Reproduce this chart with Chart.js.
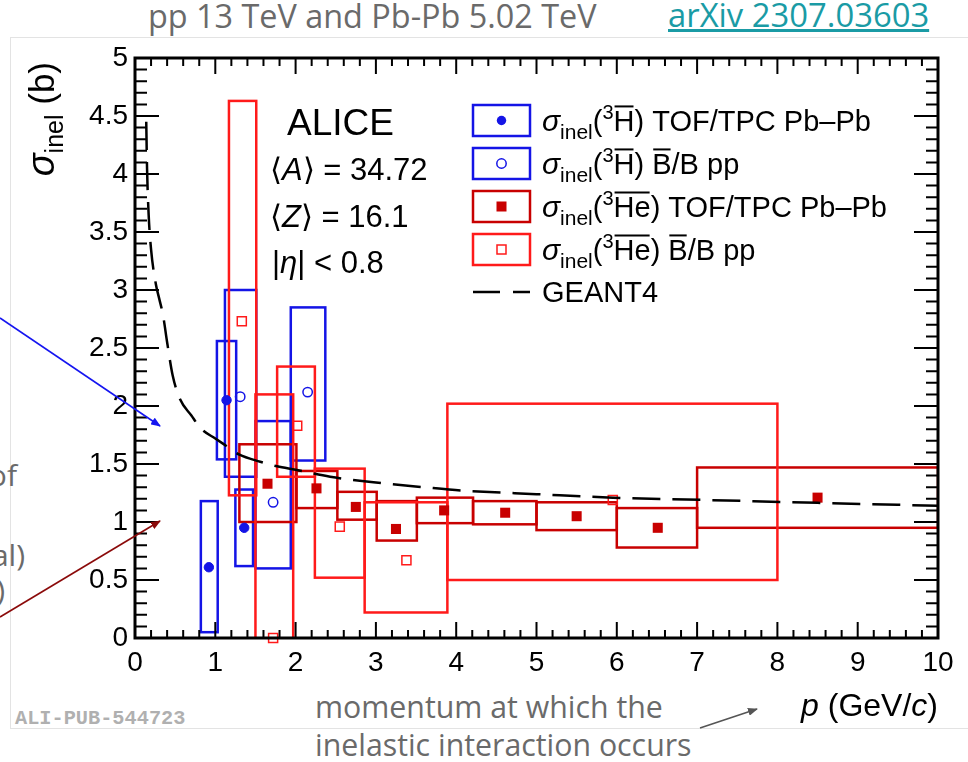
<!DOCTYPE html>
<html>
<head>
<meta charset="utf-8">
<script src="https://cdn.jsdelivr.net/npm/chart.js@4.4.0/dist/chart.umd.min.js"></script>
<style>
  body { margin: 0; width: 968px; height: 762px; overflow: hidden; background: #fff; position: relative; font-family: 'Open Sans', sans-serif; }
  .t { position: absolute; white-space: nowrap; line-height: 1; color: #6a6a6a; }
  #fig { position: absolute; left: 10px; top: 37px; width: 1000px; height: 690px; border: 1px solid #e3e3e3; }
  #c { position: absolute; left: 0; top: 0; }
  svg { position: absolute; left: 0; top: 0; }
</style>
</head>
<body>
<div id="fig"></div>
<div class="t" style="left:148px;top:-1px;font-size:32.4px;">pp 13 TeV and Pb-Pb 5.02 TeV</div>
<div class="t" style="left:668px;top:-1px;font-size:32.8px;color:#1a9ba5;text-decoration:underline;">arXiv 2307.03603</div>
<div class="t" style="right:951px;top:460px;font-size:30px;">of</div>
<div class="t" style="right:943px;top:540px;font-size:30px;">al)</div>
<div class="t" style="right:963px;top:575px;font-size:30px;">)</div>
<div class="t" style="left:315px;top:692px;font-size:30.3px;">momentum at which the</div>
<div class="t" style="left:315px;top:730px;font-size:30.3px;">inelastic interaction occurs</div>
<div class="t" style="left:15px;top:707px;font:bold 20.3px 'Liberation Mono', monospace;color:#b0b0b0;">ALI-PUB-544723</div>
<canvas id="c" width="968" height="762"></canvas>
<svg width="968" height="762">
  <defs>
    <marker id="ab" markerWidth="10" markerHeight="8" refX="9" refY="4" orient="auto" markerUnits="userSpaceOnUse"><path d="M0,0 L10,4 L0,8 z" fill="#1515f0"/></marker>
    <marker id="ar" markerWidth="10" markerHeight="8" refX="9" refY="4" orient="auto" markerUnits="userSpaceOnUse"><path d="M0,0 L10,4 L0,8 z" fill="#8b0a0a"/></marker>
    <marker id="ag" markerWidth="10" markerHeight="8" refX="9" refY="4" orient="auto" markerUnits="userSpaceOnUse"><path d="M0,0 L10,4 L0,8 z" fill="#555"/></marker>
  </defs>
  <line x1="0" y1="318" x2="160" y2="426" stroke="#1515f0" stroke-width="1.6" marker-end="url(#ab)"/>
  <line x1="0" y1="617" x2="160" y2="521" stroke="#8b0a0a" stroke-width="1.6" marker-end="url(#ar)"/>
  <line x1="700" y1="728" x2="757" y2="709" stroke="#555" stroke-width="1.6" marker-end="url(#ag)"/>
</svg>
<script>
// anti-3H, TOF/TPC Pb-Pb
const h3PbX = [0.92, 1.14, 1.36];
const h3PbY = [0.61, 2.05, 0.95];
const h3PbXlo = [0.82, 1.02, 1.25];
const h3PbXhi = [1.03, 1.26, 1.47];
const h3PbYlo = [0.05, 1.54, 0.62];
const h3PbYhi = [1.18, 2.56, 1.28];

// anti-3H, B/B pp
const h3ppX = [1.31, 1.72, 2.15];
const h3ppY = [2.08, 1.17, 2.12];
const h3ppXlo = [1.12, 1.50, 1.94];
const h3ppXhi = [1.51, 1.94, 2.37];
const h3ppYlo = [1.39, 0.60, 1.53];
const h3ppYhi = [3.00, 1.87, 2.85];

// anti-3He, TOF/TPC Pb-Pb
const he3PbX = [1.65, 2.26, 2.75, 3.25, 3.85, 4.61, 5.50, 6.51, 8.50];
const he3PbY = [1.33, 1.29, 1.13, 0.94, 1.10, 1.08, 1.05, 0.95, 1.21];
const he3PbXlo = [1.30, 2.01, 2.52, 3.01, 3.51, 4.21, 5.00, 6.00, 7.00];
const he3PbXhi = [2.01, 2.52, 3.01, 3.51, 4.21, 5.00, 6.00, 7.00, 10.0];
const he3PbYlo = [1.00, 1.12, 1.02, 0.84, 0.99, 0.98, 0.93, 0.78, 0.95];
const he3PbYhi = [1.67, 1.44, 1.26, 1.18, 1.21, 1.18, 1.17, 1.12, 1.47];

// anti-3He, B/B pp
const he3ppX = [1.33, 1.72, 2.02, 2.55, 3.38, 5.95];
const he3ppY = [2.73, 0.00, 1.83, 0.96, 0.67, 1.19];
const he3ppXlo = [1.17, 1.50, 1.77, 2.24, 2.86, 3.89];
const he3ppXhi = [1.51, 1.97, 2.24, 2.86, 3.89, 8.00];
const he3ppYlo = [1.23, -0.60, 1.39, 0.52, 0.22, 0.50];
const he3ppYhi = [4.63, 2.10, 2.34, 1.46, 1.17, 2.02];

// GEANT4 curve
const geantX = [0.14, 0.15, 0.17, 0.20, 0.26, 0.30, 0.35, 0.40, 0.47, 0.56, 0.70, 0.83, 1.00, 1.15, 1.30, 1.56, 1.77, 2.00, 2.43, 3.00, 3.60, 4.10, 5.00, 5.95, 7.10, 8.50, 10.0];
const geantY = [4.45, 4.05, 3.65, 3.35, 3.05, 2.93, 2.78, 2.55, 2.26, 2.06, 1.92, 1.80, 1.72, 1.65, 1.58, 1.52, 1.48, 1.45, 1.39, 1.34, 1.30, 1.27, 1.24, 1.21, 1.19, 1.165, 1.14];

const xTicks = [0, 1, 2, 3, 4, 5, 6, 7, 8, 9, 10];
const yTicks = [0, 0.5, 1, 1.5, 2, 2.5, 3, 3.5, 4, 4.5, 5];

const BLUE = '#1414e6';
const RED = '#ff1a1a';
const DRED = '#c80000';
const FONT = "'Liberation Sans', Arial, Helvetica, sans-serif";

const pts = (xs, ys) => xs.map((x, i) => ({ x, y: ys[i] }));

const series = [
  { x: h3PbX, y: h3PbY, xlo: h3PbXlo, xhi: h3PbXhi, ylo: h3PbYlo, yhi: h3PbYhi, color: BLUE },
  { x: h3ppX, y: h3ppY, xlo: h3ppXlo, xhi: h3ppXhi, ylo: h3ppYlo, yhi: h3ppYhi, color: BLUE },
  { x: he3PbX, y: he3PbY, xlo: he3PbXlo, xhi: he3PbXhi, ylo: he3PbYlo, yhi: he3PbYhi, color: DRED },
  { x: he3ppX, y: he3ppY, xlo: he3ppXlo, xhi: he3ppXhi, ylo: he3ppYlo, yhi: he3ppYhi, color: RED }
];

// systematic boxes
const boxPlugin = {
  id: 'boxes',
  beforeDatasetsDraw(chart) {
    const { ctx, chartArea: a, scales: { x, y } } = chart;
    ctx.save();
    ctx.beginPath();
    ctx.rect(a.left, a.top, a.right - a.left, a.bottom - a.top);
    ctx.clip();
    ctx.lineWidth = 2.5;
    series.forEach(s => {
      ctx.strokeStyle = s.color;
      s.xlo.forEach((v, i) => {
        const x0 = x.getPixelForValue(v), x1 = x.getPixelForValue(s.xhi[i]);
        const y0 = y.getPixelForValue(s.yhi[i]), y1 = y.getPixelForValue(s.ylo[i]);
        ctx.strokeRect(x0, y0, x1 - x0, y1 - y0);
      });
    });
    ctx.restore();
  }
};

function rich(ctx, x, y, parts, align) {
  const f = p => (p[2] || '') + ' ' + p[1] + 'px ' + FONT;
  let w = 0;
  parts.forEach(p => { ctx.font = f(p); w += ctx.measureText(p[0]).width; });
  let cx = align === 'right' ? x - w : x;
  parts.forEach(p => {
    ctx.font = f(p);
    const pw = ctx.measureText(p[0]).width;
    ctx.fillText(p[0], cx, y + (p[3] || 0));
    if (p[4]) {
      ctx.beginPath();
      ctx.lineWidth = 2;
      ctx.moveTo(cx + 1, y - p[1] * 0.83);
      ctx.lineTo(cx + pw - 1, y - p[1] * 0.83);
      ctx.stroke();
    }
    cx += pw;
  });
}

function marker(ctx, kind, x, y, color) {
  ctx.fillStyle = color; ctx.strokeStyle = color; ctx.lineWidth = 1.5;
  ctx.beginPath();
  if (kind === 'fc') { ctx.arc(x, y, 4.7, 0, Math.PI * 2); ctx.fill(); }
  if (kind === 'oc') { ctx.arc(x, y, 4.7, 0, Math.PI * 2); ctx.stroke(); }
  if (kind === 'fs') { ctx.fillRect(x - 5, y - 5, 10, 10); }
  if (kind === 'os') { ctx.strokeRect(x - 4.5, y - 4.5, 9, 9); }
}

const framePlugin = {
  id: 'frame',
  afterDatasetsDraw(chart) {
    const { ctx, chartArea: a, scales: { x, y } } = chart;
    ctx.save();
    ctx.strokeStyle = '#000';
    ctx.lineWidth = 2;
    ctx.beginPath();
    for (let v = 0; v <= 10.001; v += 0.2) {
      const px = x.getPixelForValue(v);
      const len = Math.abs(v - Math.round(v)) < 1e-6 ? 16 : 8;
      ctx.moveTo(px, a.bottom); ctx.lineTo(px, a.bottom - len);
      ctx.moveTo(px, a.top); ctx.lineTo(px, a.top + len);
    }
    for (let v = 0; v <= 5.001; v += 0.1) {
      const py = y.getPixelForValue(v);
      const len = Math.abs(v * 2 - Math.round(v * 2)) < 1e-6 ? 24 : 12;
      ctx.moveTo(a.left, py); ctx.lineTo(a.left + len, py);
      ctx.moveTo(a.right, py); ctx.lineTo(a.right - len, py);
    }
    ctx.stroke();
    ctx.lineWidth = 3;
    ctx.strokeRect(a.left, a.top, a.right - a.left, a.bottom - a.top);
    ctx.restore();
  },
  afterDraw(chart) {
    const { ctx, chartArea: a } = chart;
    ctx.save();
    ctx.fillStyle = '#000';
    ctx.strokeStyle = '#000';
    ctx.textBaseline = 'alphabetic';
    ctx.textAlign = 'left';

    // axis titles
    rich(ctx, a.right, 716, [['p', 32, 'italic'], [' (GeV/', 32], ['c', 32, 'italic'], [')', 32]], 'right');
    ctx.save();
    ctx.translate(54, 62);
    ctx.rotate(-Math.PI / 2);
    rich(ctx, 0, 0, [['σ', 38, 'italic'], ['inel', 25, '', 9], [' (b)', 35]], 'right');
    ctx.restore();

    // labels
    rich(ctx, 287, 135, [['ALICE', 37]]);
    rich(ctx, 270, 180, [['⟨', 31], ['A', 31, 'italic'], ['⟩ = 34.72', 31]]);
    rich(ctx, 270, 227, [['⟨', 31], ['Z', 31, 'italic'], ['⟩ = 16.1', 31]]);
    rich(ctx, 272, 273, [['|', 31], ['η', 31, 'italic'], ['| < 0.8', 31]]);

    // legend
    const rows = [
      { c: BLUE, m: 'fc', nuc: 'H', tail: [[' TOF/TPC Pb–Pb', 29]] },
      { c: BLUE, m: 'oc', nuc: 'H', tail: [[' ', 29], ['B', 29, '', 0, true], ['/B pp', 29]] },
      { c: DRED, m: 'fs', nuc: 'He', tail: [[' TOF/TPC Pb–Pb', 29]] },
      { c: RED, m: 'os', nuc: 'He', tail: [[' ', 29], ['B', 29, '', 0, true], ['/B pp', 29]] }
    ];
    rows.forEach((r, i) => {
      const cy = 120.5 + i * 43;
      ctx.strokeStyle = r.c; ctx.lineWidth = 2.5;
      ctx.strokeRect(473, cy - 15.5, 57, 31);
      marker(ctx, r.m, 501.5, cy, r.c);
      ctx.fillStyle = '#000'; ctx.strokeStyle = '#000';
      rich(ctx, 542, cy + 10, [['σ', 30, 'italic'], ['inel', 21, '', 8], ['(', 29], ['3', 20, '', -12], [r.nuc, 29, '', 0, true], [')', 29]].concat(r.tail));
    });
    ctx.strokeStyle = '#000'; ctx.lineWidth = 2.5;
    ctx.setLineDash([27, 13]);
    ctx.beginPath(); ctx.moveTo(473, 292); ctx.lineTo(530, 292); ctx.stroke();
    ctx.setLineDash([]);
    ctx.fillStyle = '#000';
    rich(ctx, 542, 302, [['GEANT4', 29]]);
    ctx.restore();
  }
};

new Chart(document.getElementById('c'), {
  type: 'scatter',
  data: {
    datasets: [
      { label: 'GEANT4', data: pts(geantX, geantY), showLine: true, borderColor: '#000', borderWidth: 2.5,
        borderDash: [28, 12], pointRadius: 0, cubicInterpolationMode: 'monotone' },
      { label: 'h3Pb', data: pts(h3PbX, h3PbY), pointStyle: 'circle', pointRadius: 4.7, backgroundColor: BLUE, borderColor: BLUE, clip: false },
      { label: 'h3pp', data: pts(h3ppX, h3ppY), pointStyle: 'circle', pointRadius: 4.7, backgroundColor: 'rgba(0,0,0,0)', borderColor: BLUE, borderWidth: 1.5, clip: false },
      { label: 'he3Pb', data: pts(he3PbX, he3PbY), pointStyle: 'rect', pointRadius: 7.1, backgroundColor: DRED, borderColor: DRED, borderWidth: 0, clip: false },
      { label: 'he3pp', data: pts(he3ppX, he3ppY), pointStyle: 'rect', pointRadius: 6.4, backgroundColor: 'rgba(0,0,0,0)', borderColor: RED, borderWidth: 1.5, clip: false }
    ]
  },
  options: {
    responsive: false,
    animation: false,
    layout: { padding: { left: 75, right: 30, top: 58, bottom: 84 } },
    plugins: { legend: { display: false }, tooltip: { enabled: false } },
    scales: {
      x: {
        type: 'linear', min: 0, max: 10,
        afterFit: s => { s.height = 40; },
        afterBuildTicks: s => { s.ticks = xTicks.map(v => ({ value: v })); },
        grid: { display: false, drawTicks: false }, border: { display: false },
        ticks: { color: '#000', font: { family: FONT, size: 28 }, padding: 8, maxRotation: 0, autoSkip: false, callback: v => String(v) }
      },
      y: {
        type: 'linear', min: 0, max: 5,
        afterFit: s => { s.width = 60; },
        afterBuildTicks: s => { s.ticks = yTicks.map(v => ({ value: v })); },
        grid: { display: false, drawTicks: false }, border: { display: false },
        ticks: { color: '#000', font: { family: FONT, size: 28 }, padding: 7, autoSkip: false, callback: v => String(v) }
      }
    }
  },
  plugins: [boxPlugin, framePlugin]
});
</script>
</body>
</html>
